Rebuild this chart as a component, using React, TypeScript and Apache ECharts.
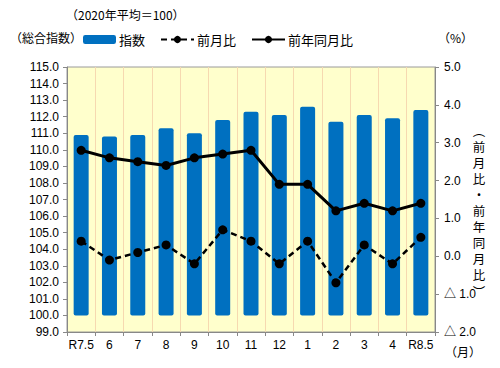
import React, { useEffect, useRef } from "react";
import * as echarts from "echarts";

const months = ["R7.5", "6", "7", "8", "9", "10", "11", "12", "1", "2", "3", "4", "R8.5"];
const indexValues = [110.9, 110.8, 110.9, 111.3, 111.0, 111.8, 112.3, 112.1, 112.6, 111.7, 112.1, 111.9, 112.4];
const momChange = [0.4, -0.1, 0.1, 0.3, -0.2, 0.7, 0.4, -0.2, 0.4, -0.7, 0.3, -0.2, 0.5];
const yoyChange = [2.8, 2.6, 2.5, 2.4, 2.6, 2.7, 2.8, 1.9, 1.9, 1.2, 1.4, 1.2, 1.4];
const rightTitleChars = ["︵", "前", "月", "比", "・", "前", "年", "同", "月", "比", "︶"];

const FONT = "'Liberation Sans', Arial, 'Noto Sans CJK JP', sans-serif";
const CJK = "'Noto Sans CJK JP', 'Liberation Sans', sans-serif";

export default function App() {
  const ref = useRef<HTMLDivElement>(null);

  useEffect(() => {
    document.body.style.margin = "0";
    const chart = echarts.init(ref.current!, null, { renderer: "svg" });

    // vertical right-axis title, one glyph per line
    const titleGlyphs = rightTitleChars.map((ch, i) => ({
      type: "text",
      x: 479,
      y: 130 + i * 16.1,
      style: {
        text: ch,
        font: `12.5px ${CJK}`,
        fill: "#000",
        align: "center",
        verticalAlign: "middle",
      },
    }));

    chart.setOption({
      animation: false,
      textStyle: { fontFamily: FONT, color: "#000" },
      grid: {
        left: 67,
        right: 65,
        top: 67,
        bottom: 36,
        show: true,
        backgroundColor: "#FFFFCC",
        borderColor: "#9a9a9a",
        borderWidth: 1,
      },
      legend: {
        left: 83,
        top: 33,
        padding: 0,
        itemWidth: 33,
        itemHeight: 9,
        itemGap: 15,
        textStyle: { fontFamily: CJK, fontSize: 13, color: "#000", padding: [0, 0, 0, -2] },
        data: ["指数", "前月比", "前年同月比"],
      },
      xAxis: {
        type: "category",
        data: months,
        boundaryGap: true,
        axisLine: { show: true, onZero: false, lineStyle: { color: "#888" } },
        axisTick: { show: true, length: 4, interval: 0, lineStyle: { color: "#888" } },
        splitLine: { show: true, interval: 0, lineStyle: { color: "#F6D9B0", width: 1 } },
        axisLabel: { fontSize: 12, color: "#000", margin: 7, interval: 0, fontFamily: FONT },
      },
      yAxis: [
        {
          type: "value",
          min: 99,
          max: 115,
          interval: 1,
          startValue: 100,
          axisLine: { show: true, lineStyle: { color: "#888" } },
          axisTick: { show: true, length: 4, inside: false, lineStyle: { color: "#888" } },
          splitLine: { show: false },
          axisLabel: {
            fontSize: 12,
            color: "#000",
            margin: 8,
            fontFamily: FONT,
            formatter: (v: number) => v.toFixed(1),
          },
        },
        {
          type: "value",
          min: -2,
          max: 5,
          interval: 1,
          position: "right",
          axisLine: { show: true, lineStyle: { color: "#888" } },
          axisTick: { show: true, length: 4, lineStyle: { color: "#888" } },
          splitLine: { show: false },
          axisLabel: {
            fontSize: 12,
            color: "#000",
            margin: 9,
            fontFamily: FONT,
            formatter: (v: number) => (v < 0 ? "△ " + Math.abs(v).toFixed(1) : v.toFixed(1)),
          },
        },
      ],
      series: [
        {
          name: "指数",
          type: "bar",
          yAxisIndex: 0,
          data: indexValues,
          barWidth: 15,
          itemStyle: { color: "#0070C0", borderRadius: 2 },
        },
        {
          name: "前月比",
          type: "line",
          yAxisIndex: 1,
          data: momChange,
          symbol: "circle",
          symbolSize: 9,
          itemStyle: { color: "#000" },
          lineStyle: { color: "#000", width: 2.5, type: [6, 4] },
          z: 3,
        },
        {
          name: "前年同月比",
          type: "line",
          yAxisIndex: 1,
          data: yoyChange,
          symbol: "circle",
          symbolSize: 9,
          itemStyle: { color: "#000" },
          lineStyle: { color: "#000", width: 3 },
          z: 4,
        },
      ],
      graphic: [
        {
          type: "text",
          left: 66,
          top: 8,
          style: { text: "（2020年平均＝100）", font: `12px ${CJK}`, fill: "#000" },
        },
        {
          type: "text",
          left: 10,
          top: 31,
          style: { text: "（総合指数）", font: `12px ${CJK}`, fill: "#000" },
        },
        {
          type: "text",
          left: 438,
          top: 31,
          style: { text: "（%）", font: `12px ${CJK}`, fill: "#000" },
        },
        {
          type: "text",
          left: 445,
          top: 345,
          style: { text: "（月）", font: `12px ${CJK}`, fill: "#000" },
        },
        ...titleGlyphs,
      ],
    });
    return () => chart.dispose();
  }, []);

  return <div ref={ref} style={{ width: 500, height: 368 }} />;
}
